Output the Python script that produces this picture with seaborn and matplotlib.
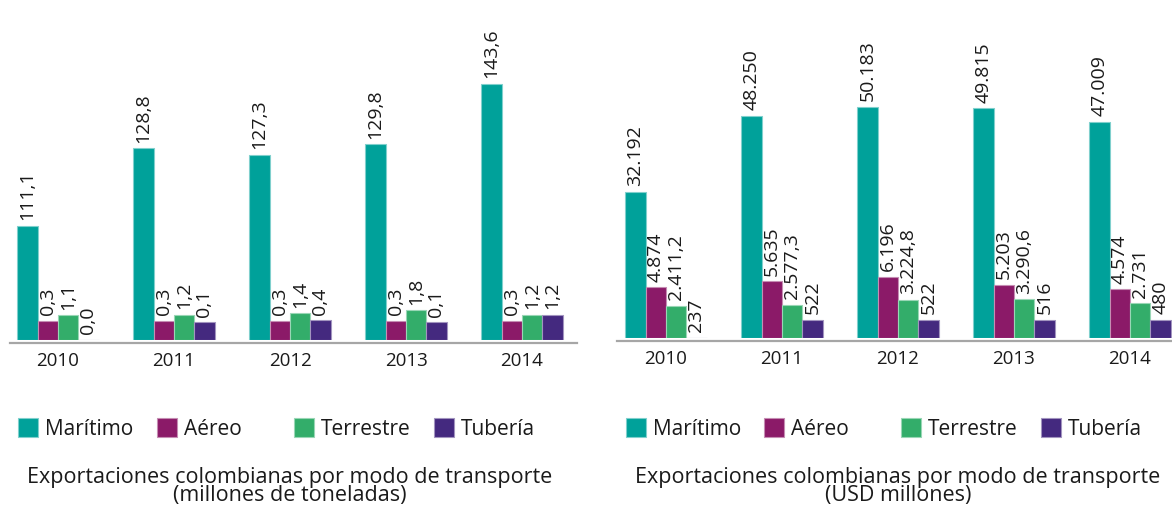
import numpy as np
import pandas as pd
import seaborn as sns
import matplotlib.pyplot as plt
from matplotlib.patches import Patch
from matplotlib.colors import to_rgb

years = ['2010', '2011', '2012', '2013', '2014']
modes = ['Marítimo', 'Aéreo', 'Terrestre', 'Tubería']

# millones de toneladas
ton_maritimo = [111.1, 128.8, 127.3, 129.8, 143.6]
ton_aereo = [0.3, 0.3, 0.3, 0.3, 0.3]
ton_terrestre = [1.1, 1.2, 1.4, 1.8, 1.2]
ton_tuberia = [0.0, 0.1, 0.4, 0.1, 1.2]

# USD millones
usd_maritimo = [32192, 48250, 50183, 49815, 47009]
usd_aereo = [4874, 5635, 6196, 5203, 4574]
usd_terrestre = [2411.2, 2577.3, 3224.8, 3290.6, 2731]
usd_tuberia = [237, 522, 522, 516, 480]

colors = ['#00A19A', '#8B1A68', '#33AD6A', '#44297F']

titles = ['Exportaciones colombianas por modo de transporte\n(millones de toneladas)',
          'Exportaciones colombianas por modo de transporte\n(USD millones)']

sns.set_theme(style='white')
plt.rcParams['font.family'] = ['Open Sans', 'DejaVu Sans']

W, H = 1172, 508
fig = plt.figure(figsize=(W / 100, H / 100), dpi=100)


def long_df(series):
    rows = []
    for mode, vals in zip(modes, series):
        for y, v in zip(years, vals):
            rows.append({'Año': y, 'Modo': mode, 'Valor': v})
    return pd.DataFrame(rows)


def fmt_ton(v):
    return f'{v:.1f}'.replace('.', ',')


def fmt_usd(v):
    s = f'{v:,.0f}' if float(v).is_integer() else f'{v:,.1f}'
    return s.replace(',', '#').replace('.', ',').replace('#', '.')


# piecewise axis scale (the original chart squeezes the big bars and lifts the small ones)
def make_scale(knots_v, knots_px):
    kv = np.array(knots_v, dtype=float)
    kp = np.array(knots_px, dtype=float)

    def fwd(x):
        return np.interp(x, kv, kp)

    def inv(x):
        return np.interp(x, kp, kv)
    return fwd, inv


def lighter(c):
    return tuple(0.5 * np.array(to_rgb(c)) + 0.5)


panels = [
    dict(series=[ton_maritimo, ton_aereo, ton_terrestre, ton_tuberia], fmt=fmt_ton,
         box=(10, 340, 567), xlim=(-0.414, 4.474),
         scale=make_scale([0, 0.01, 2, 100, 200], [0, 17, 31, 66, 502]),
         leg_x=[18, 157, 294, 434], title_x=290),
    dict(series=[usd_maritimo, usd_aereo, usd_terrestre, usd_tuberia], fmt=fmt_usd,
         box=(617, 338, 555), xlim=(-0.422, 4.362),
         scale=make_scale([0, 300, 480, 2400, 6200, 30000, 80000],
                          [0, 0.5, 18, 32, 61, 136, 372.5]),
         leg_x=[626, 764, 901, 1041], title_x=898),
]

for p in panels:
    left, bottom_px, width = p['box']
    ax = fig.add_axes([left / W, (H - bottom_px) / H, width / W, bottom_px / H])
    df = long_df(p['series'])
    sns.barplot(data=df, x='Año', y='Valor', hue='Modo', hue_order=modes,
                palette=colors, saturation=1, width=0.7, errorbar=None,
                legend=False, ax=ax)

    for cont, c in zip(ax.containers, colors):
        for bar in cont:
            bar.set_edgecolor(lighter(c))
            bar.set_linewidth(0.8)
        ax.bar_label(cont, labels=[p['fmt'](v) for v in cont.datavalues],
                     rotation=90, padding=4, fontsize=14, color='#1a1a1a')

    fwd, inv = p['scale']
    ax.set_yscale('function', functions=(fwd, inv))
    ax.set_ylim(0, inv(bottom_px))
    ax.set_xlim(*p['xlim'])
    ax.set_yticks([])
    ax.set_xlabel('')
    ax.set_ylabel('')
    sns.despine(ax=ax, left=True)
    ax.spines['bottom'].set_color('#A6A6A6')
    ax.spines['bottom'].set_linewidth(1.6)
    ax.spines['bottom'].set_position(('outward', 2.5))
    ax.tick_params(axis='x', length=0, pad=6, labelsize=13.5, labelcolor='#1a1a1a')
    ax.patch.set_alpha(0)

    for x, mode, c in zip(p['leg_x'], modes, colors):
        h = Patch(facecolor=c, edgecolor=lighter(c), linewidth=0.8)
        fig.legend(handles=[h], labels=[mode], loc='center left',
                   bbox_to_anchor=(x / W, 1 - 429 / H), frameon=False,
                   borderpad=0, borderaxespad=0, handlelength=0.97, handleheight=0.97,
                   handletextpad=0.34, fontsize=15, labelcolor='#1a1a1a')

for p, t in zip(panels, titles):
    fig.text(p['title_x'] / W, 2 / H, t, ha='center', va='bottom',
             fontsize=15.5, linespacing=0.82, color='#1a1a1a')

fig.savefig('out.png', dpi=100)
